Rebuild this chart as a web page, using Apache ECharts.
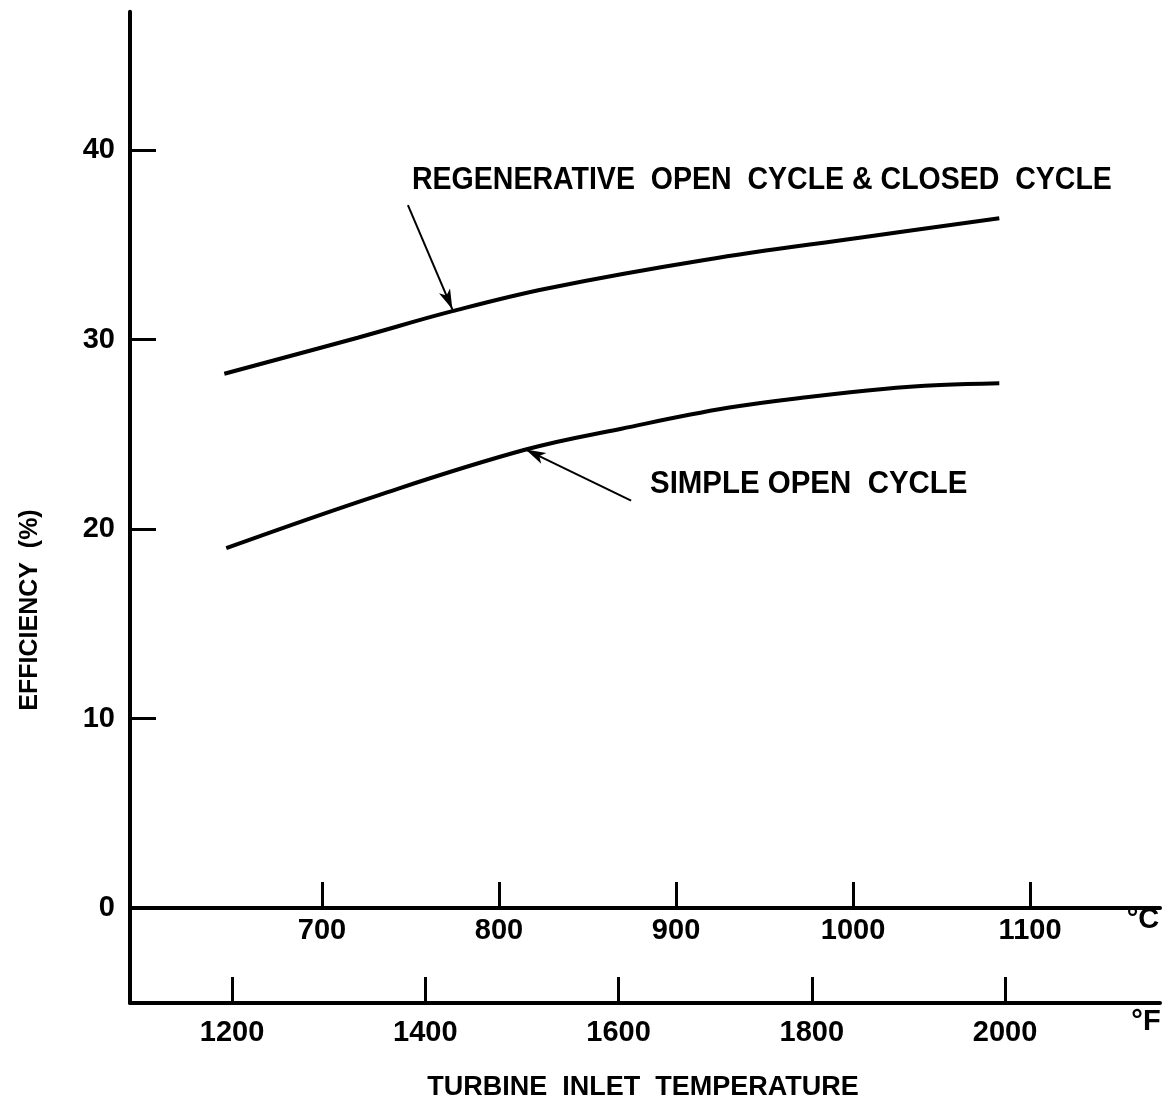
<!DOCTYPE html>
<html>
<head>
<meta charset="utf-8">
<title>Efficiency vs turbine inlet temperature</title>
<script src="https://cdn.jsdelivr.net/npm/echarts@6/dist/echarts.min.js"></script>
<style>
html, body { margin: 0; padding: 0; background: #fff; }
#chart { width: 1165px; height: 1107px; }
</style>
</head>
<body>
<div id="chart"></div>
<script>
// curves: x in deg F, y in efficiency (%)
var regenTempF = [1192, 1330, 1428, 1526, 1689, 1853, 1994];
var regenEff = [28.2, 30.1, 31.5, 32.7, 34.2, 35.4, 36.4];
var simpleTempF = [1194, 1352, 1504, 1603, 1713, 1801, 1874, 1933, 1994];
var simpleEff = [19.0, 21.8, 24.2, 25.3, 26.4, 27.0, 27.4, 27.6, 27.7];
// tick labels
var effLabels = [0, 10, 20, 30, 40];
var effTicks = [10, 20, 30, 40];
var tempCTicks = [700, 800, 900, 1000, 1100];
var tempFTicks = [1200, 1400, 1600, 1800, 2000];
// annotation arrows, tail -> head, [deg F, %]
var regenArrow = [[1382, 37.1], [1428, 31.6]];
var simpleArrow = [[1613, 21.5], [1504, 24.2]];

var labelFont = '"Liberation Sans", Arial, sans-serif';
var noteFont = '"Liberation Sans", Arial, sans-serif';

function toPairs(xs, ys) {
	var out = [];
	for (var i = 0; i < xs.length; i++) {
		out.push([xs[i], ys[i]]);
	}
	return out;
}

// plain numbers, no thousands separator
function plain(v) {
	return String(v);
}

function arrowLine(arrow) {
	return {
		silent: true,
		symbol: ['none', 'arrow'],
		symbolSize: [9, 20],
		lineStyle: { color: '#000', width: 2, type: 'solid' },
		label: { show: false },
		emphasis: { disabled: true },
		data: [[{ coord: arrow[0] }, { coord: arrow[1] }]]
	};
}

var chart = echarts.init(document.getElementById('chart'));
var option = {
	backgroundColor: '#fff',
	animation: false,
	grid: {
		left: 130,
		right: 5,
		top: 11.7,
		bottom: 104
	},
	xAxis: [
		{
			// deg C scale, raised up to the zero line
			type: 'value',
			position: 'bottom',
			offset: -95,
			min: 591.5,
			max: 1173.4,
			axisLine: { onZero: false, lineStyle: { color: '#000', width: 4 } },
			axisTick: { inside: true, length: 26, customValues: tempCTicks, lineStyle: { color: '#000', width: 3 } },
			axisLabel: { customValues: tempCTicks, formatter: plain, margin: 8, color: '#000', fontSize: 29, fontWeight: 'bold', fontFamily: labelFont },
			splitLine: { show: false }
		},
		{
			// deg F scale along the bottom
			type: 'value',
			position: 'bottom',
			min: 1094.4,
			max: 2160.3,
			axisLine: { onZero: false, lineStyle: { color: '#000', width: 4 } },
			axisTick: { inside: true, length: 26, customValues: tempFTicks, lineStyle: { color: '#000', width: 3 } },
			axisLabel: { customValues: tempFTicks, formatter: plain, margin: 15, color: '#000', fontSize: 29, fontWeight: 'bold', fontFamily: labelFont },
			splitLine: { show: false }
		}
	],
	yAxis: {
		type: 'value',
		min: -5,
		max: 47.3,
		axisLine: { show: true, onZero: false, lineStyle: { color: '#000', width: 4 } },
		axisTick: { show: true, inside: true, length: 26, customValues: effTicks, lineStyle: { color: '#000', width: 3 } },
		axisLabel: { customValues: effLabels, formatter: plain, margin: 15, color: '#000', fontSize: 29, fontWeight: 'bold', fontFamily: labelFont },
		splitLine: { show: false }
	},
	series: [
		{
			name: 'Regenerative open cycle & closed cycle',
			type: 'line',
			xAxisIndex: 1,
			smooth: 0.4,
			showSymbol: false,
			lineStyle: { color: '#000', width: 4 },
			data: toPairs(regenTempF, regenEff),
			markLine: arrowLine(regenArrow)
		},
		{
			name: 'Simple open cycle',
			type: 'line',
			xAxisIndex: 1,
			smooth: 0.4,
			showSymbol: false,
			lineStyle: { color: '#000', width: 4 },
			data: toPairs(simpleTempF, simpleEff),
			markLine: arrowLine(simpleArrow)
		}
	],
	graphic: [
		{
			type: 'text', x: 412, y: 180, scaleX: 0.92,
			style: { text: 'REGENERATIVE  OPEN  CYCLE & CLOSED  CYCLE', fill: '#000', font: 'bold 31px ' + noteFont, verticalAlign: 'middle' }
		},
		{
			type: 'text', x: 650, y: 484, scaleX: 0.95,
			style: { text: 'SIMPLE OPEN  CYCLE', fill: '#000', font: 'bold 31px ' + noteFont, verticalAlign: 'middle' }
		},
		{
			type: 'text', x: 1143, y: 920,
			style: { text: '°C', fill: '#000', font: 'bold 29px ' + labelFont, align: 'center', verticalAlign: 'middle' }
		},
		{
			type: 'text', x: 1146, y: 1022,
			style: { text: '°F', fill: '#000', font: 'bold 29px ' + labelFont, align: 'center', verticalAlign: 'middle' }
		},
		{
			type: 'text', x: 643, y: 1088,
			style: { text: 'TURBINE  INLET  TEMPERATURE', fill: '#000', font: 'bold 27px ' + noteFont, align: 'center', verticalAlign: 'middle' }
		},
		{
			type: 'text', x: 30, y: 610, rotation: Math.PI / 2,
			style: { text: 'EFFICIENCY  (%)', fill: '#000', font: 'bold 25px ' + noteFont, align: 'center', verticalAlign: 'middle' }
		}
	]
};
chart.setOption(option);
</script>
</body>
</html>
